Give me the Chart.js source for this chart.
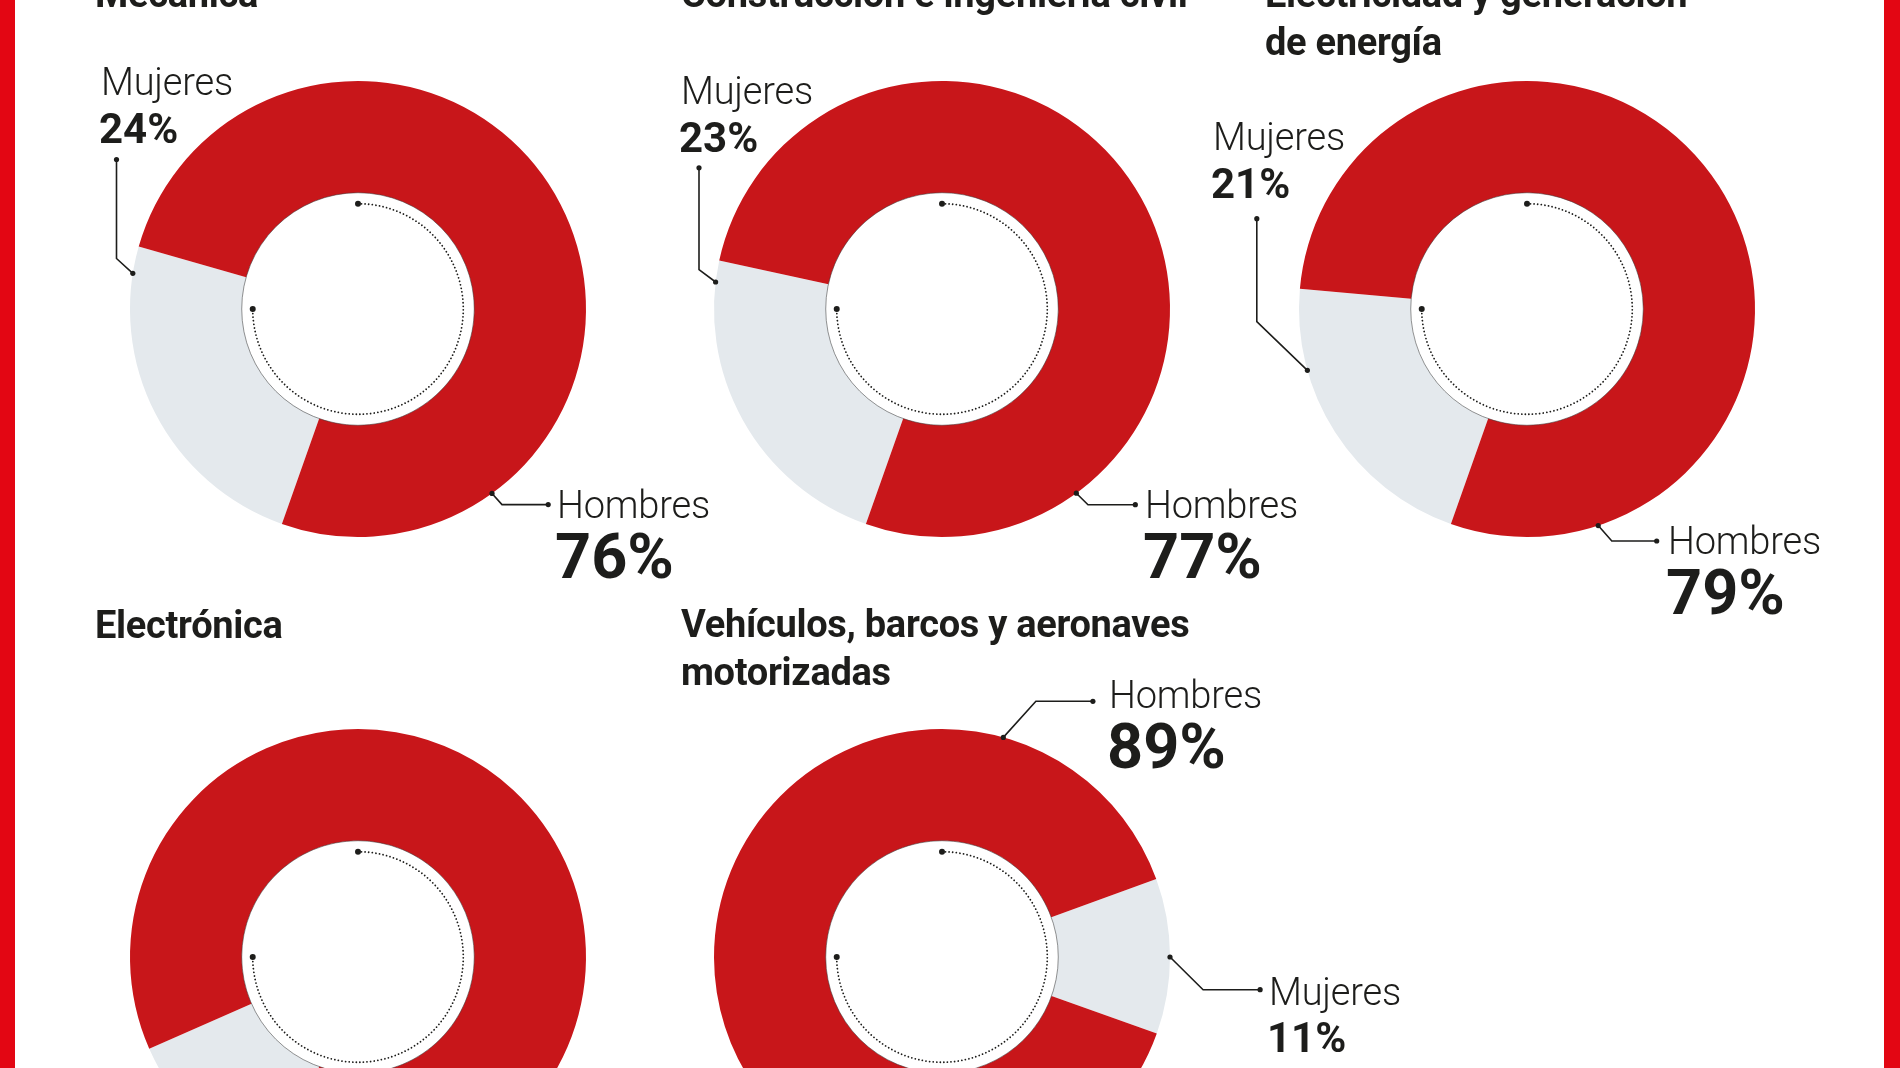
<!DOCTYPE html>
<html lang="es">
<head>
<meta charset="utf-8">
<title>Mujeres y hombres por especialidad</title>
<script src="https://cdn.jsdelivr.net/npm/chart.js@4.4.1/dist/chart.umd.min.js"></script>
<style>
  html, body { margin: 0; padding: 0; }
  body {
    width: 1900px; height: 1068px; overflow: hidden; position: relative;
    background: #fff; color: #1d1d1b;
    font-family: Roboto, "Noto Sans", sans-serif;
  }
  .bar { position: absolute; top: 0; height: 1068px; background: #e30613; }
  .box { position: absolute; width: 700px; height: 700px; }
  .title { position: absolute; font-weight: 700; font-size: 38px; line-height: 48px; white-space: pre; letter-spacing: -0.3px; }
  .name { position: absolute; font-weight: 300; font-size: 38px; line-height: 1; white-space: nowrap; letter-spacing: -0.2px; }
  .pct { position: absolute; font-weight: 700; line-height: 1; white-space: nowrap; }
</style>
</head>
<body>
<div class="bar" style="left:0;width:15px"></div>
<div class="bar" style="left:1884px;width:16px"></div>
<script>
// data (Electrónica is partly cropped, so it is an estimate)
const categories = [
  "Mecánica",
  "Construcción e ingeniería civil",
  "Electricidad y generación\nde energía",
  "Electrónica",
  "Vehículos, barcos y aeronaves\nmotorizadas"
];
const seriesNames = ["Mujeres", "Hombres"];
const mujeres = [24, 23, 21, 13, 11];
const hombres = [76, 77, 79, 87, 89];

const RED = "#c8161a";
const GRAY = "#e4e9ed";
const INK = "#1d1d1b";

// page layout: donut centres, rotation, title and label spots, leader lines
// leader: angle on ring (deg clockwise from top), elbow/end relative to centre
const layout = [
  { cx: 357.5, cy: 308.5, rotation: 199.5, titleX: 95, titleBase: 7,
    labels: [
      { s: 0, x: 101, base: 95, angle: 279, elbow: [-241.5, -50.5], end: [-241.5, -149.5] },
      { s: 1, x: 557, base: 518, angle: 144, elbow: [144, 195.6], end: [190.2, 195.6] }
    ] },
  { cx: 942, cy: 308.5, rotation: 199.5, titleX: 681, titleBase: 7,
    labels: [
      { s: 0, x: 681, base: 104, angle: 276.8, elbow: [-243, -39.4], end: [-243, -141.2] },
      { s: 1, x: 1145, base: 518, angle: 143.9, elbow: [146, 195.7], end: [193.3, 195.7] }
    ] },
  { cx: 1527, cy: 308.5, rotation: 199.5, titleX: 1265, titleBase: 7,
    labels: [
      { s: 0, x: 1213, base: 150, angle: 254.4, elbow: [-270.2, 12.7], end: [-270.2, -90.3] },
      { s: 1, x: 1668, base: 554, angle: 161.8, elbow: [84.8, 232], end: [129.7, 232] }
    ] },
  { cx: 357.5, cy: 957, rotation: 199.5, titleX: 95, titleBase: 638, labels: [] },
  { cx: 942, cy: 957, rotation: 70, titleX: 681, titleBase: 637,
    labels: [
      { s: 1, x: 1109, base: 708, angle: 15.6, elbow: [93.9, -255.7], end: [150.9, -255.7] },
      { s: 0, x: 1269, base: 1004.5, angle: 90, elbow: [261.1, 32.7], end: [318.1, 32.7] }
    ] }
];

function dot(ctx, x, y, r) {
  ctx.beginPath();
  ctx.arc(x, y, r, 0, Math.PI * 2);
  ctx.fill();
}

const decorPlugin = {
  id: "decor",
  afterDatasetsDraw(chart, args, opts) {
    const ctx = chart.ctx;
    const arc = chart.getDatasetMeta(0).data[0];
    const x = arc.x, y = arc.y;
    const R = arc.outerRadius, r = arc.innerRadius;
    ctx.save();
    // thin edge of the hole
    ctx.strokeStyle = "rgba(60,60,60,0.55)";
    ctx.lineWidth = 1;
    ctx.beginPath();
    ctx.arc(x, y, r, 0, Math.PI * 2);
    ctx.stroke();
    // dotted arc inside the hole, top round to the left
    const ra = r - 11;
    ctx.strokeStyle = INK;
    ctx.fillStyle = INK;
    ctx.lineWidth = 1.8;
    ctx.lineCap = "round";
    ctx.setLineDash([0.01, 3.6]);
    ctx.beginPath();
    ctx.arc(x, y, ra, -Math.PI / 2, Math.PI, false);
    ctx.stroke();
    ctx.setLineDash([]);
    dot(ctx, x, y - ra, 3);
    dot(ctx, x - ra, y, 3);
    // leader lines
    ctx.lineWidth = 1.6;
    ctx.lineCap = "butt";
    (opts.items || []).forEach(it => {
      const a = it.angle * Math.PI / 180;
      const sx = x + R * Math.sin(a), sy = y - R * Math.cos(a);
      ctx.beginPath();
      ctx.moveTo(sx, sy);
      ctx.lineTo(x + it.elbow[0], y + it.elbow[1]);
      ctx.lineTo(x + it.end[0], y + it.end[1]);
      ctx.stroke();
      dot(ctx, sx, sy, 2.6);
      dot(ctx, x + it.end[0], y + it.end[1], 2.6);
    });
    ctx.restore();
  }
};

function addText(cls, text, left, top, size) {
  const d = document.createElement("div");
  d.className = cls;
  d.textContent = text;
  d.style.left = left + "px";
  d.style.top = top + "px";
  if (size) d.style.fontSize = size + "px";
  document.body.appendChild(d);
}

layout.forEach((L, i) => {
  const box = document.createElement("div");
  box.className = "box";
  box.style.left = (L.cx - 350) + "px";
  box.style.top = (L.cy - 350) + "px";
  const canvas = document.createElement("canvas");
  box.appendChild(canvas);
  document.body.appendChild(box);

  new Chart(canvas, {
    type: "doughnut",
    data: {
      labels: seriesNames,
      datasets: [{
        data: [mujeres[i], hombres[i]],
        backgroundColor: [GRAY, RED],
        borderWidth: 0
      }]
    },
    options: {
      responsive: true,
      maintainAspectRatio: false,
      animation: false,
      events: [],
      rotation: L.rotation,
      cutout: "51%",
      layout: { padding: 122 },
      plugins: {
        legend: { display: false },
        tooltip: { enabled: false },
        decor: { items: L.labels }
      }
    },
    plugins: [decorPlugin]
  });
});

// titles and labels on top of the canvases
layout.forEach((L, i) => {
  addText("title", categories[i], L.titleX, L.titleBase - 37);
  L.labels.forEach(lb => {
    const vals = lb.s === 0 ? mujeres : hombres;
    const big = lb.s === 1;
    const fs = big ? 63 : 42;
    const pctBase = lb.base + (big ? 60 : 48);
    addText("name", seriesNames[lb.s], lb.x, lb.base - 0.842 * 38);
    addText("pct", vals[i] + "%", lb.x - 2, pctBase - 0.842 * fs, fs);
  });
});
</script>
</body>
</html>
